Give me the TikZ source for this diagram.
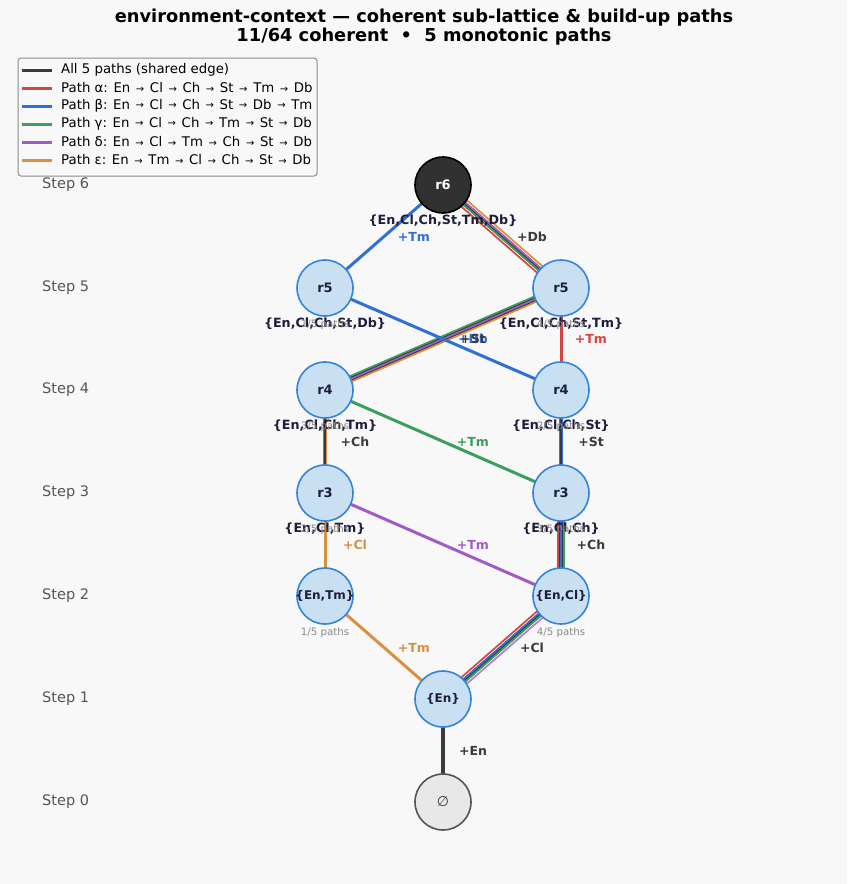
\documentclass[tikz,border=0pt]{standalone}
\usepackage{fontspec}
\setmainfont{DejaVu Sans}
\usetikzlibrary{calc}
\definecolor{bgc}{HTML}{F8F8F8}
\definecolor{pred}{HTML}{D64541}
\definecolor{pblue}{HTML}{2F6FD6}
\definecolor{pgreen}{HTML}{3A9E5F}
\definecolor{ppurple}{HTML}{A05CC6}
\definecolor{porange}{HTML}{D9903F}
\definecolor{pdark}{HTML}{3A3A3A}
\definecolor{nfill}{HTML}{C8E0F2}
\definecolor{nborder}{HTML}{3584DA}
\definecolor{navy}{HTML}{1E1E3C}
\definecolor{steptxt}{HTML}{555555}
\definecolor{pathtxt}{HTML}{8A8A8A}
\pgfdeclarelayer{bglayer}
\pgfdeclarelayer{edgelayer}
\pgfsetlayers{bglayer,edgelayer,main}
\newcommand\lane[4]{\draw[lanestyle,#4] ($(#1.center)!#3!90:(#2.center)$) -- ($(#2.center)!#3!-90:(#1.center)$);}
\newcommand\core[2]{\draw[darkcore] (#1.center) -- (#2.center);}
\newcommand\single[3]{\draw[singlestyle,#3] (#1.center) -- (#2.center);}
\newcommand\elabel[4]{\node[edgetext,text=#3] at ($(#1.center)!0.5!(#2.center)$) [xshift=30pt] {#4};}
\newcommand\legarrow{\ \kern1.4pt\raisebox{0.8pt}{\fontsize{10}{10}\selectfont →}\kern1.4pt\ }
\tikzset{
  statenode/.style={circle, minimum size=56pt, inner sep=0pt, draw=nborder, fill=nfill, line width=1.6pt},
  topnode/.style={circle, minimum size=56pt, inner sep=0pt, draw=black, fill=pdark!85!black, line width=1.6pt},
  emptynode/.style={circle, minimum size=56pt, inner sep=0pt, draw=steptxt, fill=black!9, line width=1.6pt},
  nodetext/.style={font=\bfseries\fontsize{13}{13}\selectfont, text=navy, inner sep=0pt},
  settext/.style={font=\bfseries\fontsize{12.7}{12.7}\selectfont, text=navy, inner sep=0pt},
  innertext/.style={font=\bfseries\fontsize{12}{12}\selectfont, text=navy, inner sep=0pt},
  pathtext/.style={font=\fontsize{10.2}{10.2}\selectfont, text=pathtxt, inner sep=0pt},
  edgetext/.style={font=\bfseries\fontsize{12.5}{12.5}\selectfont, inner sep=0pt},
  steplabel/.style={font=\fontsize{14.5}{14.5}\selectfont, text=steptxt, anchor=west, inner sep=0pt},
  legtext/.style={font=\fontsize{13.3}{13.3}\selectfont, text=black, anchor=west, inner sep=0pt},
  legline/.style={line width=3pt},
  singlestyle/.style={line width=3pt},
  lanestyle/.style={line width=1.7pt},
  darkcore/.style={pdark, line width=4.5pt},
  titletext/.style={font=\bfseries\fontsize{17.8}{17.8}\selectfont, text=black, inner sep=0pt}
}
\begin{document}
\begin{tikzpicture}[x=1pt,y=-1pt]
\begin{pgfonlayer}{bglayer}
\fill[bgc] (0,0) rectangle (847,884);
\end{pgfonlayer}
\useasboundingbox (0,0) rectangle (847,884);

% title
\node[titletext] (t1) at (424,18) {environment-context — coherent sub-lattice \& build-up paths};
\node[titletext] (t2) at (424,37) {11/64 coherent ~•~ 5 monotonic paths};

% step labels
\node[steplabel] (s6) at (42,185) {Step 6};
\node[steplabel] (s5) at (42,288) {Step 5};
\node[steplabel] (s4) at (42,390) {Step 4};
\node[steplabel] (s3) at (42,493) {Step 3};
\node[steplabel] (s2) at (42,596) {Step 2};
\node[steplabel] (s1) at (42,699) {Step 1};
\node[steplabel] (s0) at (42,802) {Step 0};

% nodes
\node[emptynode] (n0) at (443,802) {};
\node[statenode] (n1) at (443,699) {};
\node[statenode] (n2a) at (325,596) {};
\node[statenode] (n2b) at (561,596) {};
\node[statenode] (n3a) at (325,493) {};
\node[statenode] (n3b) at (561,493) {};
\node[statenode] (n4a) at (325,390) {};
\node[statenode] (n4b) at (561,390) {};
\node[statenode] (n5a) at (325,288) {};
\node[statenode] (n5b) at (561,288) {};
\node[topnode] (n6) at (443,185) {};

% edges
\begin{pgfonlayer}{edgelayer}
\single{n0}{n1}{pdark,line width=3.5pt}
\single{n1}{n2a}{porange}
\core{n1}{n2b}
\lane{n1}{n2b}{4.2pt}{pred}
\lane{n1}{n2b}{1.4pt}{pblue}
\lane{n1}{n2b}{-1.4pt}{pgreen}
\lane{n1}{n2b}{-4.2pt}{ppurple!80}
\single{n2a}{n3a}{porange}
\single{n2b}{n3a}{ppurple}
\core{n2b}{n3b}
\lane{n2b}{n3b}{2.8pt}{pred}
\lane{n2b}{n3b}{0pt}{pblue}
\lane{n2b}{n3b}{-2.8pt}{pgreen}
\core{n3a}{n4a}
\lane{n3a}{n4a}{1.4pt}{ppurple}
\lane{n3a}{n4a}{-1.4pt}{porange}
\single{n3b}{n4a}{pgreen}
\core{n3b}{n4b}
\lane{n3b}{n4b}{1.4pt}{pred}
\lane{n3b}{n4b}{-1.4pt}{pblue}
\core{n4a}{n5b}
\lane{n4a}{n5b}{2.8pt}{pgreen}
\lane{n4a}{n5b}{0pt}{ppurple}
\lane{n4a}{n5b}{-2.8pt}{porange}
\single{n4b}{n5a}{pblue}
\single{n4b}{n5b}{pred}
\single{n5a}{n6}{pblue}
\core{n5b}{n6}
\lane{n5b}{n6}{4.2pt}{pred}
\lane{n5b}{n6}{1.4pt}{pgreen}
\lane{n5b}{n6}{-1.4pt}{ppurple}
\lane{n5b}{n6}{-4.2pt}{porange}
\end{pgfonlayer}

% node texts
\node[nodetext,text=white] (l6) at (n6) {r6};
\node[nodetext] (l5a) at (n5a) {r5};
\node[nodetext] (l5b) at (n5b) {r5};
\node[nodetext] (l4a) at (n4a) {r4};
\node[nodetext] (l4b) at (n4b) {r4};
\node[nodetext] (l3a) at (n3a) {r3};
\node[nodetext] (l3b) at (n3b) {r3};
\node[innertext] (l2a) at (n2a) {\{En,Tm\}};
\node[innertext] (l2b) at (n2b) {\{En,Cl\}};
\node[innertext] (l1) at (n1) {\{En\}};
\node[font=\fontsize{14}{14}\selectfont, text=pdark, inner sep=0pt] (l0) at (n0) {∅};

% set labels below r nodes
\node[settext] (q6) at ($(n6)+(0,36)$) {\{En,Cl,Ch,St,Tm,Db\}};
\node[settext] (q5a) at ($(n5a)+(0,36)$) {\{En,Cl,Ch,St,Db\}};
\node[settext] (q5b) at ($(n5b)+(0,36)$) {\{En,Cl,Ch,St,Tm\}};
\node[settext] (q4a) at ($(n4a)+(0,36)$) {\{En,Cl,Ch,Tm\}};
\node[settext] (q4b) at ($(n4b)+(0,36)$) {\{En,Cl,Ch,St\}};
\node[settext] (q3a) at ($(n3a)+(0,36)$) {\{En,Cl,Tm\}};
\node[settext] (q3b) at ($(n3b)+(0,36)$) {\{En,Cl,Ch\}};

% path counts
\node[pathtext] (p5a) at ($(n5a)+(0,37)$) {1/5 paths};
\node[pathtext] (p5b) at ($(n5b)+(0,37)$) {4/5 paths};
\node[pathtext] (p4a) at ($(n4a)+(0,37)$) {3/5 paths};
\node[pathtext] (p4b) at ($(n4b)+(0,37)$) {2/5 paths};
\node[pathtext] (p3a) at ($(n3a)+(0,37)$) {2/5 paths};
\node[pathtext] (p3b) at ($(n3b)+(0,37)$) {3/5 paths};
\node[pathtext] (p2a) at ($(n2a)+(0,37)$) {1/5 paths};
\node[pathtext] (p2b) at ($(n2b)+(0,37)$) {4/5 paths};

% edge labels
\elabel{n0}{n1}{pdark}{+En}
\elabel{n1}{n2a}{porange}{+Tm}
\elabel{n1}{n2b}{pdark}{+Cl}
\elabel{n2a}{n3a}{porange}{+Cl}
\elabel{n2b}{n3a}{ppurple}{+Tm}
\elabel{n2b}{n3b}{pdark}{+Ch}
\elabel{n3a}{n4a}{pdark}{+Ch}
\elabel{n3b}{n4a}{pgreen}{+Tm}
\elabel{n3b}{n4b}{pdark}{+St}
\elabel{n4b}{n5a}{pblue}{+Db}
\elabel{n4a}{n5b}{pdark}{+St}
\elabel{n4b}{n5b}{pred}{+Tm}
\elabel{n5a}{n6}{pblue}{+Tm}
\elabel{n5b}{n6}{pdark}{+Db}

% legend
\node[draw=black!45, fill=bgc, rounded corners=3pt, line width=1pt, minimum width=299pt, minimum height=118pt, inner sep=0pt] (leg) at (167.5,117) {};
\coordinate (la0) at (22,70);  \coordinate (lb0) at (52,70);
\coordinate (la1) at (22,88);  \coordinate (lb1) at (52,88);
\coordinate (la2) at (22,106); \coordinate (lb2) at (52,106);
\coordinate (la3) at (22,124); \coordinate (lb3) at (52,124);
\coordinate (la4) at (22,142); \coordinate (lb4) at (52,142);
\coordinate (la5) at (22,160); \coordinate (lb5) at (52,160);
\draw[legline,pdark] (la0) -- (lb0);
\draw[legline,pred] (la1) -- (lb1);
\draw[legline,pblue] (la2) -- (lb2);
\draw[legline,pgreen] (la3) -- (lb3);
\draw[legline,ppurple] (la4) -- (lb4);
\draw[legline,porange] (la5) -- (lb5);
\node[legtext] (g0) at (61,70) {All 5 paths (shared edge)};
\node[legtext] (g1) at (61,88) {Path α: En\legarrow Cl\legarrow Ch\legarrow St\legarrow Tm\legarrow Db};
\node[legtext] (g2) at (61,106) {Path β: En\legarrow Cl\legarrow Ch\legarrow St\legarrow Db\legarrow Tm};
\node[legtext] (g3) at (61,124) {Path γ: En\legarrow Cl\legarrow Ch\legarrow Tm\legarrow St\legarrow Db};
\node[legtext] (g4) at (61,142) {Path δ: En\legarrow Cl\legarrow Tm\legarrow Ch\legarrow St\legarrow Db};
\node[legtext] (g5) at (61,160) {Path ε: En\legarrow Tm\legarrow Cl\legarrow Ch\legarrow St\legarrow Db};
\end{tikzpicture}
\end{document}
